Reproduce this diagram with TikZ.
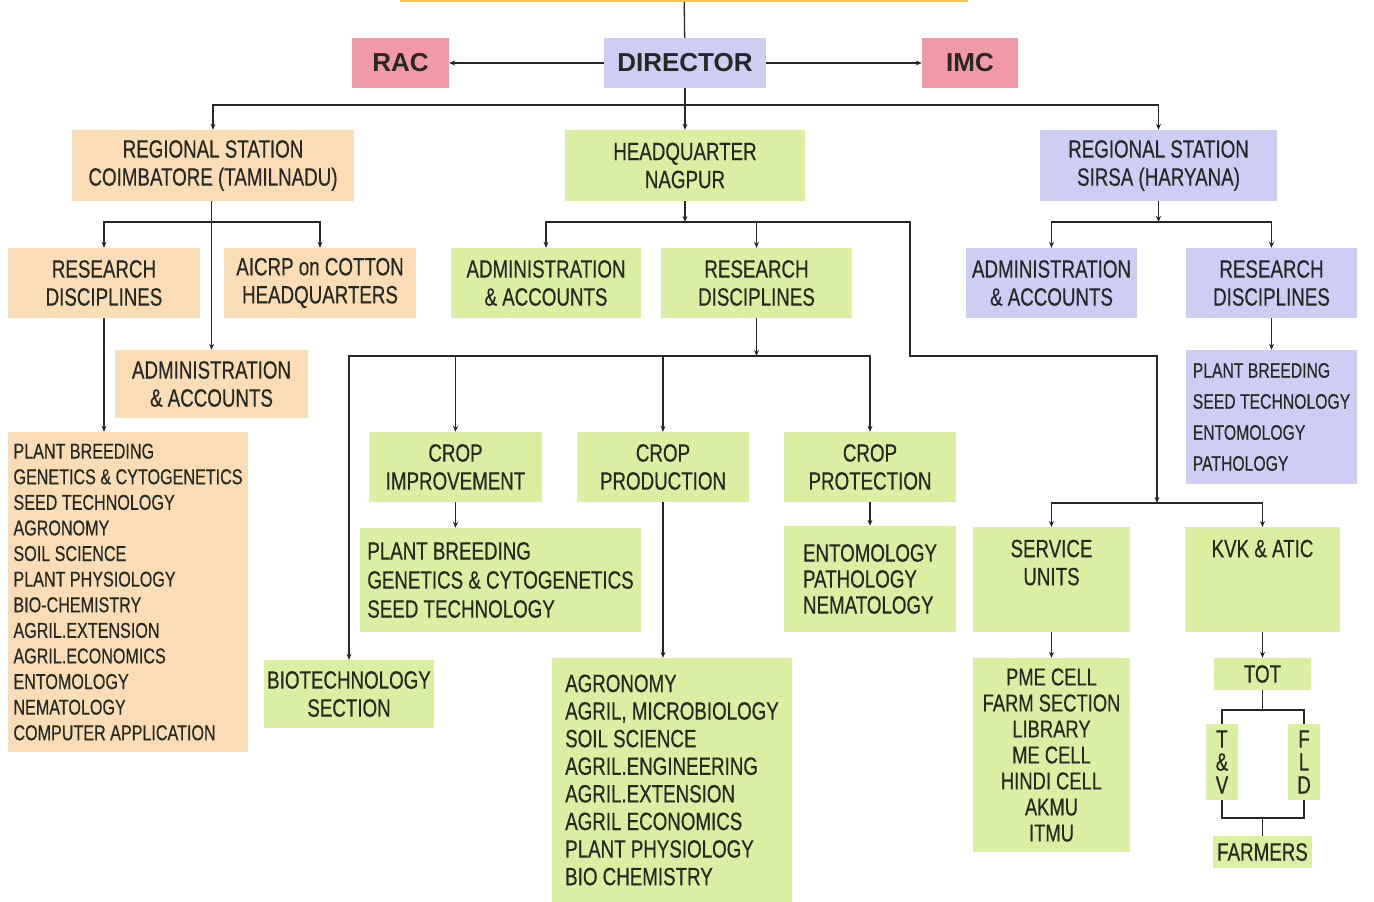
\documentclass[tikz,border=0pt]{standalone}
\usepackage{fontspec}
\setmainfont{Liberation Sans}[FakeStretch=0.75, FakeBold=0.4]
\newfontfamily\headfont{Liberation Sans}
\usetikzlibrary{positioning,arrows.meta}
\definecolor{peach}{RGB}{250,221,182}
\definecolor{leaf}{RGB}{219,239,162}
\definecolor{lilac}{RGB}{206,206,244}
\definecolor{rose}{RGB}{240,154,166}
\definecolor{gold}{RGB}{250,192,70}
\definecolor{ink}{RGB}{38,40,36}
\tikzset{
  box/.style={rectangle, inner sep=0pt, align=center, text=ink, font=\fontsize{25}{28}\selectfont},
  peachbox/.style={box, fill=peach},
  leafbox/.style={box, fill=leaf},
  lilacbox/.style={box, fill=lilac},
  rosebox/.style={box, fill=rose},
  headbox/.style={font=\headfont\bfseries\fontsize{26}{30}\selectfont},
  topped/.style={anchor=north, text height=30pt, text depth=75pt},
  link/.style={draw=ink, line width=1.3pt},
}

\begin{document}
\begin{tikzpicture}[x=1pt, y=-1pt, >={Stealth[length=6pt,width=5pt]}]
\useasboundingbox (0,0) rectangle (1374,902);

% top level
\node[box, fill=gold, minimum width=568, minimum height=30, anchor=south] at (684,2) (top) {};
\node[rosebox, headbox, minimum width=97, minimum height=50] at (400.5,63) (rac) {RAC};
\node[lilacbox, headbox, minimum width=162, minimum height=50] at (685,63) (dir) {DIRECTOR};
\node[rosebox, headbox, minimum width=96, minimum height=50] at (970,63) (imc) {IMC};

% stations
\node[peachbox, minimum width=282, minimum height=71] at (213,165.5) (coim) {REGIONAL STATION\\COIMBATORE (TAMILNADU)};
\node[leafbox, minimum width=240, minimum height=71] at (685,165.5) (hq) {HEADQUARTER\\NAGPUR};
\node[lilacbox, minimum width=237, minimum height=71] at (1158.5,165.5) (sirsa) {REGIONAL STATION\\SIRSA (HARYANA)};

% coimbatore
\node[peachbox, minimum width=192, minimum height=70] at (104,283) (cres) {RESEARCH\\DISCIPLINES};
\node[peachbox, minimum width=192, minimum height=70] at (320,283) (caicrp) {AICRP on COTTON\\HEADQUARTERS};
\node[peachbox, minimum width=193, minimum height=68] at (211.5,384) (cadm) {ADMINISTRATION\\\& ACCOUNTS};
\node[peachbox, align=left, minimum width=240, minimum height=320, font=\fontsize{21.5}{25.6}\selectfont] at (128,592) (clist)
  {PLANT BREEDING\\GENETICS \& CYTOGENETICS\\SEED TECHNOLOGY\\AGRONOMY\\SOIL SCIENCE\\PLANT PHYSIOLOGY\\BIO-CHEMISTRY\\AGRIL.EXTENSION\\AGRIL.ECONOMICS\\ENTOMOLOGY\\NEMATOLOGY\\COMPUTER APPLICATION};

% nagpur
\node[leafbox, minimum width=190, minimum height=70] at (546,283) (hadm) {ADMINISTRATION\\\& ACCOUNTS};
\node[leafbox, minimum width=191, minimum height=70] at (756.5,283) (hres) {RESEARCH\\DISCIPLINES};
\node[leafbox, minimum width=173, minimum height=70] at (455.5,467) (ci) {CROP\\IMPROVEMENT};
\node[leafbox, minimum width=172, minimum height=70] at (663,467) (cpd) {CROP\\PRODUCTION};
\node[leafbox, minimum width=172, minimum height=70] at (870,467) (cpt) {CROP\\PROTECTION};
\node[leafbox, align=left, minimum width=281, minimum height=104, font=\fontsize{25}{29}\selectfont] at (500.5,580) (cilist)
  {PLANT BREEDING\\GENETICS \& CYTOGENETICS\\SEED TECHNOLOGY};
\node[leafbox, align=left, minimum width=172, minimum height=106, font=\fontsize{25}{26}\selectfont] at (870,579) (cptlist)
  {ENTOMOLOGY\\PATHOLOGY\\NEMATOLOGY};
\node[leafbox, align=left, minimum width=240, minimum height=244, font=\fontsize{25}{27.6}\selectfont] at (672,780) (cpdlist)
  {AGRONOMY\\AGRIL, MICROBIOLOGY\\SOIL SCIENCE\\AGRIL.ENGINEERING\\AGRIL.EXTENSION\\AGRIL ECONOMICS\\PLANT PHYSIOLOGY\\BIO CHEMISTRY};
\node[leafbox, minimum width=170, minimum height=68] at (349,694) (bio) {BIOTECHNOLOGY\\SECTION};
\node[leafbox, topped, minimum width=157] at (1051.5,527) (svc) {\begin{tabular}[t]{@{}c@{}}SERVICE\\UNITS\end{tabular}};
\node[leafbox, topped, minimum width=155] at (1262.5,527) (kvk) {KVK \& ATIC};
\node[leafbox, minimum width=157, minimum height=194, font=\fontsize{24.5}{26}\selectfont] at (1051.5,755) (svclist)
  {PME CELL\\FARM SECTION\\LIBRARY\\ME CELL\\HINDI CELL\\AKMU\\ITMU};
\node[leafbox, minimum width=97, minimum height=32] at (1262.5,674) (tot) {TOT};
\node[leafbox, minimum width=32, minimum height=76, font=\fontsize{25}{23}\selectfont] at (1222,762) (tv) {T\\\&\\V};
\node[leafbox, minimum width=32, minimum height=76, font=\fontsize{25}{23}\selectfont] at (1304,762) (fld) {F\\L\\D};
\node[leafbox, minimum width=99, minimum height=32] at (1262.5,852) (farm) {FARMERS};

% sirsa
\node[lilacbox, minimum width=171, minimum height=70] at (1051.5,283) (sadm) {ADMINISTRATION\\\& ACCOUNTS};
\node[lilacbox, minimum width=171, minimum height=70] at (1271.5,283) (sres) {RESEARCH\\DISCIPLINES};
\node[lilacbox, align=left, minimum width=171, minimum height=134, font=\fontsize{21}{31}\selectfont] at (1271.5,417) (slist)
  {PLANT BREEDING\\SEED TECHNOLOGY\\ENTOMOLOGY\\PATHOLOGY};

\coordinate (dj) at (685,105);
\coordinate (cj) at (211.5,222);
\coordinate (hj) at (685,222);
\coordinate (sj2) at (1158.5,222);
\coordinate (k1) at (910,356);
\coordinate (sj) at (1157,503);
\coordinate (rj) at (756.5,356);
\coordinate (tj) at (1262.5,710);
\coordinate (fj) at (1262.5,818);

\path[link]
(top) edge (dir)
(dir) edge[->] (rac)
(dir) edge[->] (imc)
(dir.south) edge[->] (hq.north)
(cpt) edge[->] (cptlist)
(sres) edge[->] (slist)
(svc) edge[->] (svclist)
(kvk.south) edge[->] (tot.north)
;

\draw[link, ->] (dj) -| (coim.north);
\draw[link, ->] (dj) -| (sirsa.north);
\draw[link, ->] (coim.south -| cadm.north) -- (cadm.north);
\draw[link, ->] (cj) -| (cres.north);
\draw[link, ->] (cj) -| (caicrp.north);
\draw[link, ->] (cres.south) -- (cres.south |- clist.north);

\draw[link, ->] (hq.south) -- (hj);
\draw[link, ->] (hj) -| (hadm.north);
\draw[link, ->] (hj) -| (hres.north);
\draw[link, ->] (hj) -| (k1) -| (sj);
\draw[link, ->] (sj) -| (svc.north);
\draw[link, ->] (sj) -| (kvk.north);

\draw[link, ->] (hres.south) -- (rj);
\draw[link, ->] (rj) -| (ci.north);
\draw[link, ->] (rj) -| (cpd.north);
\draw[link, ->] (rj) -| (cpt.north);
\draw[link, ->] (rj) -| (bio.north);
\draw[link, ->] (ci.south) -- (ci.south |- cilist.north);
\draw[link, ->] (cpd.south) -- (cpd.south |- cpdlist.north);

\draw[link, ->] (sirsa.south) -- (sj2);
\draw[link, ->] (sj2) -| (sadm.north);
\draw[link, ->] (sj2) -| (sres.north);

\draw[link] (tot.south) -- (tj) -| (tv.north);
\draw[link] (tj) -| (fld.north);
\draw[link] (tv.south) |- (fj) -- (farm.north);
\draw[link] (fld.south) |- (fj);
\end{tikzpicture}
\end{document}
